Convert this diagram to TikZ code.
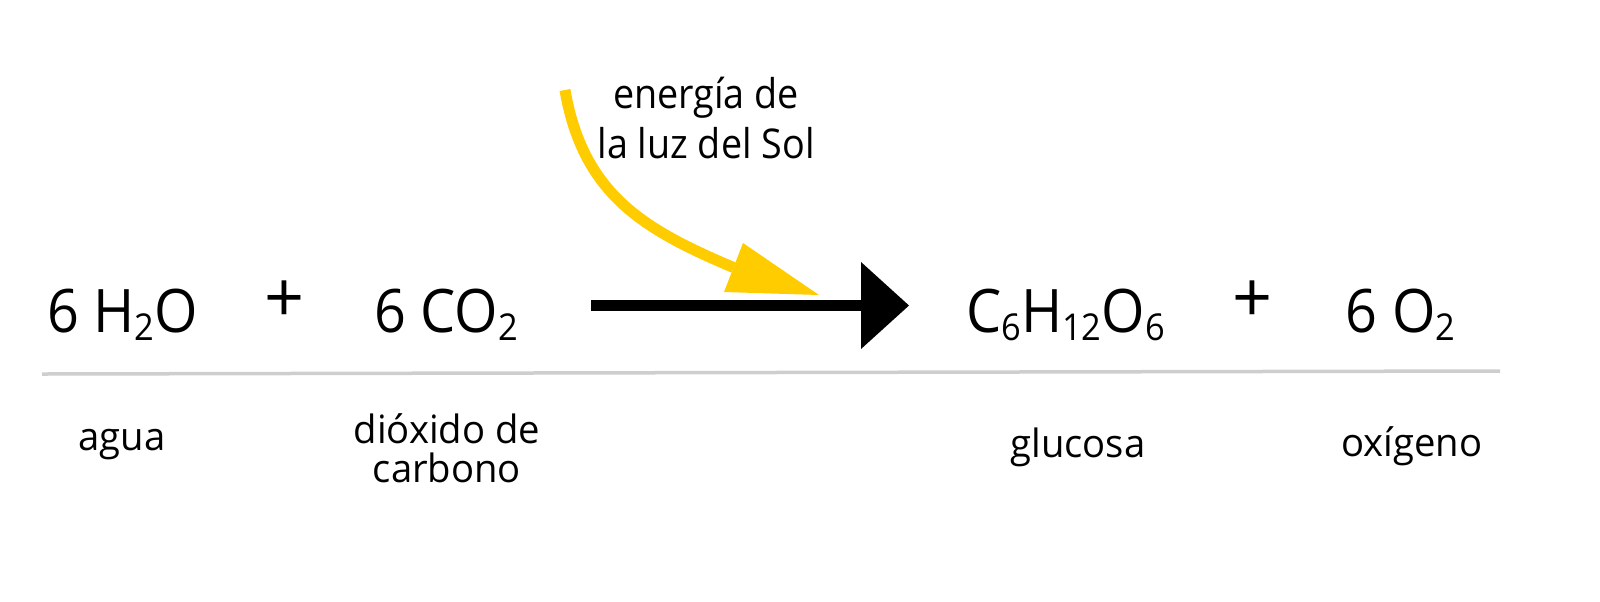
\documentclass[tikz,border=0pt]{standalone}
\usepackage{fontspec}
\setmainfont{Open Sans}[FakeStretch=0.93]
\newfontfamily\lblfont{Open Sans}[FakeStretch=0.98]
\newfontfamily\sunfont{Open Sans}[FakeStretch=0.92]
\newfontfamily\plusfont{Open Sans}
\definecolor{sunyellow}{RGB}{255,204,0}
\definecolor{rulegray}{RGB}{206,206,206}
\newcommand\chsub[1]{\raisebox{-4pt}{\fontsize{18.5pt}{20pt}\selectfont #1}}
\begin{document}
\begin{tikzpicture}[x=0.5pt,y=-0.5pt,
  formula/.style={anchor=base,inner sep=0pt,font=\fontsize{30pt}{36pt}\selectfont},
  plussign/.style={anchor=center,inner sep=0pt,font=\plusfont\fontsize{35pt}{40pt}\selectfont},
  namelbl/.style={anchor=base,inner sep=0pt,font=\lblfont\fontsize{19.5pt}{23pt}\selectfont},
  sunlbl/.style={anchor=base,inner sep=0pt,font=\sunfont\fontsize{20.5pt}{24pt}\selectfont}]
\useasboundingbox (0,0) rectangle (1600,601);
% formulas
\node[formula] (h2o) at (122.5,332) {6 H\chsub{2}O};
\node[plussign] (plus1) at (285,302) {+};
\node[formula] (co2) at (446,332) {6 CO\chsub{2}};
\node[formula] (gluc) at (1065.5,332) {C\chsub{6}H\chsub{12}O\chsub{6}};
\node[plussign] (plus2) at (1252,302) {+};
\node[formula] (o2) at (1400.5,332) {6 O\chsub{2}};
% rule
\coordinate (ruleL) at (42,374);
\coordinate (ruleR) at (1500,371);
\draw[rulegray,line width=1.75pt] (ruleL) -- (ruleR);
% names
\node[namelbl] (agua) at (122,450) {agua};
\node[namelbl] (diox1) at (447,443) {dióxido de};
\node[namelbl] (diox2) at (447,482) {carbono};
\node[namelbl] (glucosa) at (1078,457) {glucosa};
\node[namelbl] (oxig) at (1412,456) {oxígeno};
% sunlight text
\node[sunlbl] (sun1) at (706,108) {energía de};
\node[sunlbl] (sun2) at (706,158) {la luz del Sol};
% yellow arrow
\coordinate (sunA) at (565,90);
\coordinate (sunB) at (733.5,267.5);
\draw[sunyellow,line width=5.5pt] (sunA) .. controls (583,195) and (645,230) .. (sunB);
\fill[sunyellow] (743,243) -- (819,295) -- (724,292) -- cycle;
% reaction arrow
\coordinate (rxS) at (591,305.5);
\coordinate (rxE) at (862,305.5);
\draw[black,line width=5.5pt] (rxS) -- (rxE);
\fill[black] (861,262) -- (909,305.5) -- (861,349) -- cycle;
\end{tikzpicture}
\end{document}
